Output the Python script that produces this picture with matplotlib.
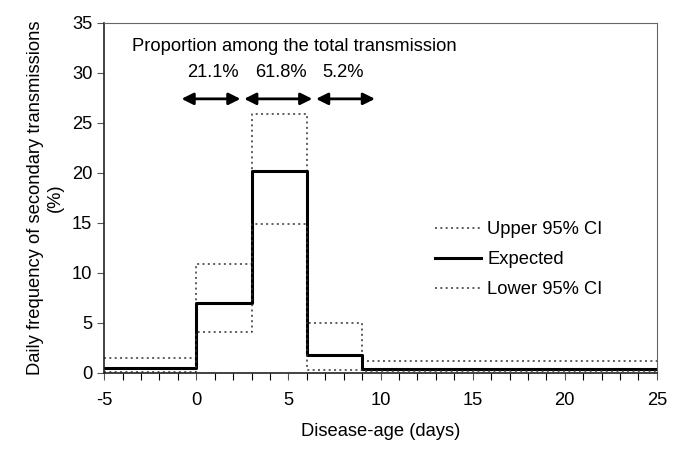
import matplotlib
matplotlib.use("Agg")
import matplotlib.pyplot as plt

plt.rcParams['font.family'] = ['Liberation Sans', 'DejaVu Sans']
plt.rcParams['axes.unicode_minus'] = False

# step edges (days) and values (%)
edges = [-5, 0, 3, 6, 9, 25]
expected = [0.5, 7.0, 20.2, 1.8, 0.35]
upper = [1.5, 10.9, 25.9, 5.0, 1.15]
lower = [0.1, 4.1, 14.9, 0.3, 0.15]

props = ["21.1%", "61.8%", "5.2%"]
prop_x = [0.9, 4.6, 7.95]
arrow_spans = [(-0.8, 2.4), (2.6, 6.3), (6.5, 9.7)]

FS = 13.2

fig = plt.figure(figsize=(6.85, 4.57), dpi=100)
ax = fig.add_axes([0.152, 0.184, 0.807, 0.766])

def stepline(vals):
    xs = edges
    ys = list(vals) + [vals[-1]]
    return xs, ys

dot = (0, (1.3, 2.2))
xs, ys = stepline(upper)
ax.step(xs, ys, where='post', color='#333333', lw=1.1, ls=dot, label='Upper 95% CI')
xs, ys = stepline(expected)
ax.step(xs, ys, where='post', color='black', lw=2.2, label='Expected')
xs, ys = stepline(lower)
ax.step(xs, ys, where='post', color='#333333', lw=1.1, ls=dot, label='Lower 95% CI')

ax.set_xlim(-5, 25)
ax.set_ylim(0, 35)
ax.set_xticks(range(-5, 26, 5))
ax.set_xticks(range(-5, 26, 1), minor=True)
ax.set_yticks(range(0, 36, 5))
ax.tick_params(axis='both', labelsize=FS, direction='out', color='#555555')
ax.tick_params(axis='x', which='both', length=5, width=0.8, pad=9)
ax.tick_params(axis='y', length=5, width=0.8)
for s in ['top', 'right']:
    ax.spines[s].set_color('#666666')
for s in ['left', 'bottom']:
    ax.spines[s].set_color('#222222')
    ax.spines[s].set_linewidth(1.2)

ax.set_xlabel('Disease-age (days)', fontsize=FS, labelpad=10)
ax.set_ylabel('Daily frequency of secondary transmissions\n(%)', fontsize=FS,
              linespacing=1.2, labelpad=6)

ax.text(5.3, 32.6, 'Proportion among the total transmission', fontsize=FS,
        ha='center', va='center')
for t, x in zip(props, prop_x):
    ax.text(x, 30.0, t, fontsize=FS, ha='center', va='center')
for a, b in arrow_spans:
    ax.annotate('', xy=(b, 27.4), xytext=(a, 27.4),
                arrowprops=dict(arrowstyle='<|-|>,head_length=0.7,head_width=0.35',
                                color='black', lw=2, shrinkA=0, shrinkB=0))

ax.legend(loc='upper left', bbox_to_anchor=(0.585, 0.455), frameon=False,
          fontsize=FS, handlelength=2.5, handletextpad=0.35, labelspacing=0.72,
          borderaxespad=0)

fig.savefig('out.png', dpi=100)
